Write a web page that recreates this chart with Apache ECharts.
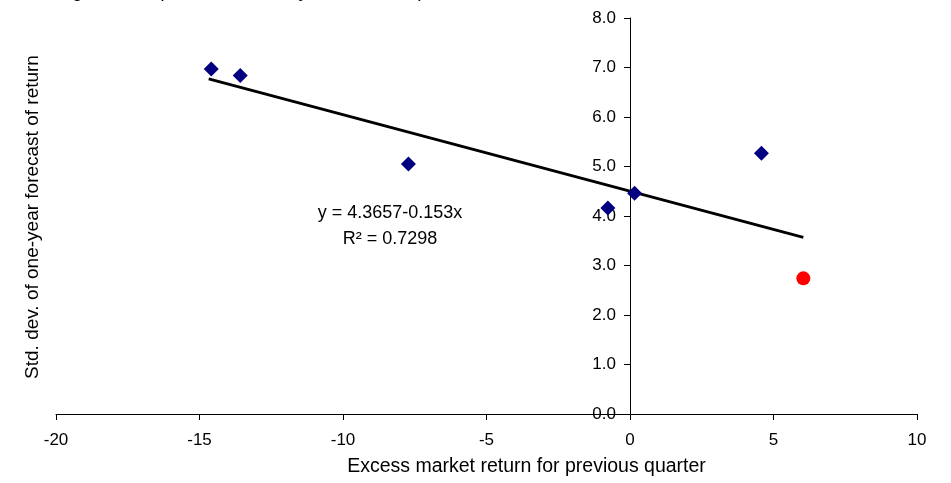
<!DOCTYPE html>
<html>
<head>
<meta charset="utf-8">
<script src="https://cdn.jsdelivr.net/npm/echarts@6/dist/echarts.min.js"></script>
<style>html,body{margin:0;padding:0;background:#fff}#c{width:951px;height:483px}</style>
</head>
<body>
<div id="c"></div>
<script>
const titleText = 'Disagreement (std. dev. of one-year forecasts) vs. market return';
const xName = 'Excess market return for previous quarter';
const yName = 'Std. dev. of one-year forecast of return';
const blueX = [-14.59, -13.58, -7.72, -0.77, 0.16, 4.58];
const blueY = [6.97, 6.84, 5.05, 4.16, 4.46, 5.27];
const redX = [6.04];
const redY = [2.74];
const trendX = [-14.68, 6.04];
const trendY = [6.77, 3.57];
const eqLine1 = 'y = 4.3657-0.153x';
const eqLine2 = 'R\u00B2 = 0.7298';

const FONT = "'Liberation Sans', Arial, sans-serif";
const chart = echarts.init(document.getElementById('c'), null, {renderer: 'canvas'});
const zip = (a, b) => a.map((v, i) => [v, b[i]]);

chart.setOption({
  animation: false,
  backgroundColor: '#fff',
  grid: {left: 56, right: 34, top: 18, bottom: 69},
  xAxis: {
    type: 'value', min: -20, max: 10, interval: 5,
    name: xName, nameLocation: 'middle', nameGap: 43,
    nameTextStyle: {fontFamily: FONT, fontSize: 19.5, color: '#000', padding: [0, 0, 0, 80]},
    axisLine: {onZero: true, lineStyle: {color: '#000', width: 1}},
    axisTick: {show: true, length: 6, lineStyle: {color: '#000'}},
    axisLabel: {fontFamily: FONT, fontSize: 17, color: '#000', margin: 18},
    splitLine: {show: false}
  },
  yAxis: {
    type: 'value', min: 0, max: 8, interval: 1,
    offset: -574,
    axisLine: {show: true, onZero: false, lineStyle: {color: '#000', width: 1}},
    axisTick: {show: true, length: 6, lineStyle: {color: '#000'}},
    axisLabel: {fontFamily: FONT, fontSize: 17, color: '#000', margin: 14,
      formatter: v => v.toFixed(1)},
    splitLine: {show: false}
  },
  series: [
    {
      type: 'line', data: zip(trendX, trendY), symbol: 'none',
      lineStyle: {color: '#000', width: 2.8}, z: 2
    },
    {
      type: 'scatter', data: zip(blueX, blueY), symbol: 'diamond', symbolSize: [15, 15],
      itemStyle: {color: '#000080', opacity: 1}, z: 3
    },
    {
      type: 'scatter', data: zip(redX, redY), symbol: 'circle', symbolSize: 14,
      itemStyle: {color: '#ff0000', opacity: 1}, z: 3
    }
  ],
  graphic: [
    {type: 'text', x: 34, y: 1,
      style: {text: titleText, font: '19px ' + FONT, fill: '#000', textAlign: 'left', textVerticalAlign: 'bottom'}},
    {type: 'text', x: 33, y: 217, rotation: Math.PI / 2,
      style: {text: yName, font: '19px ' + FONT, fill: '#000', textAlign: 'center', textVerticalAlign: 'middle'}},
    {type: 'text', x: 390, y: 213,
      style: {text: eqLine1, font: '18px ' + FONT, fill: '#000', textAlign: 'center', textVerticalAlign: 'middle'}},
    {type: 'text', x: 390, y: 239,
      style: {text: eqLine2, font: '18px ' + FONT, fill: '#000', textAlign: 'center', textVerticalAlign: 'middle'}}
  ]
});
</script>
</body>
</html>
